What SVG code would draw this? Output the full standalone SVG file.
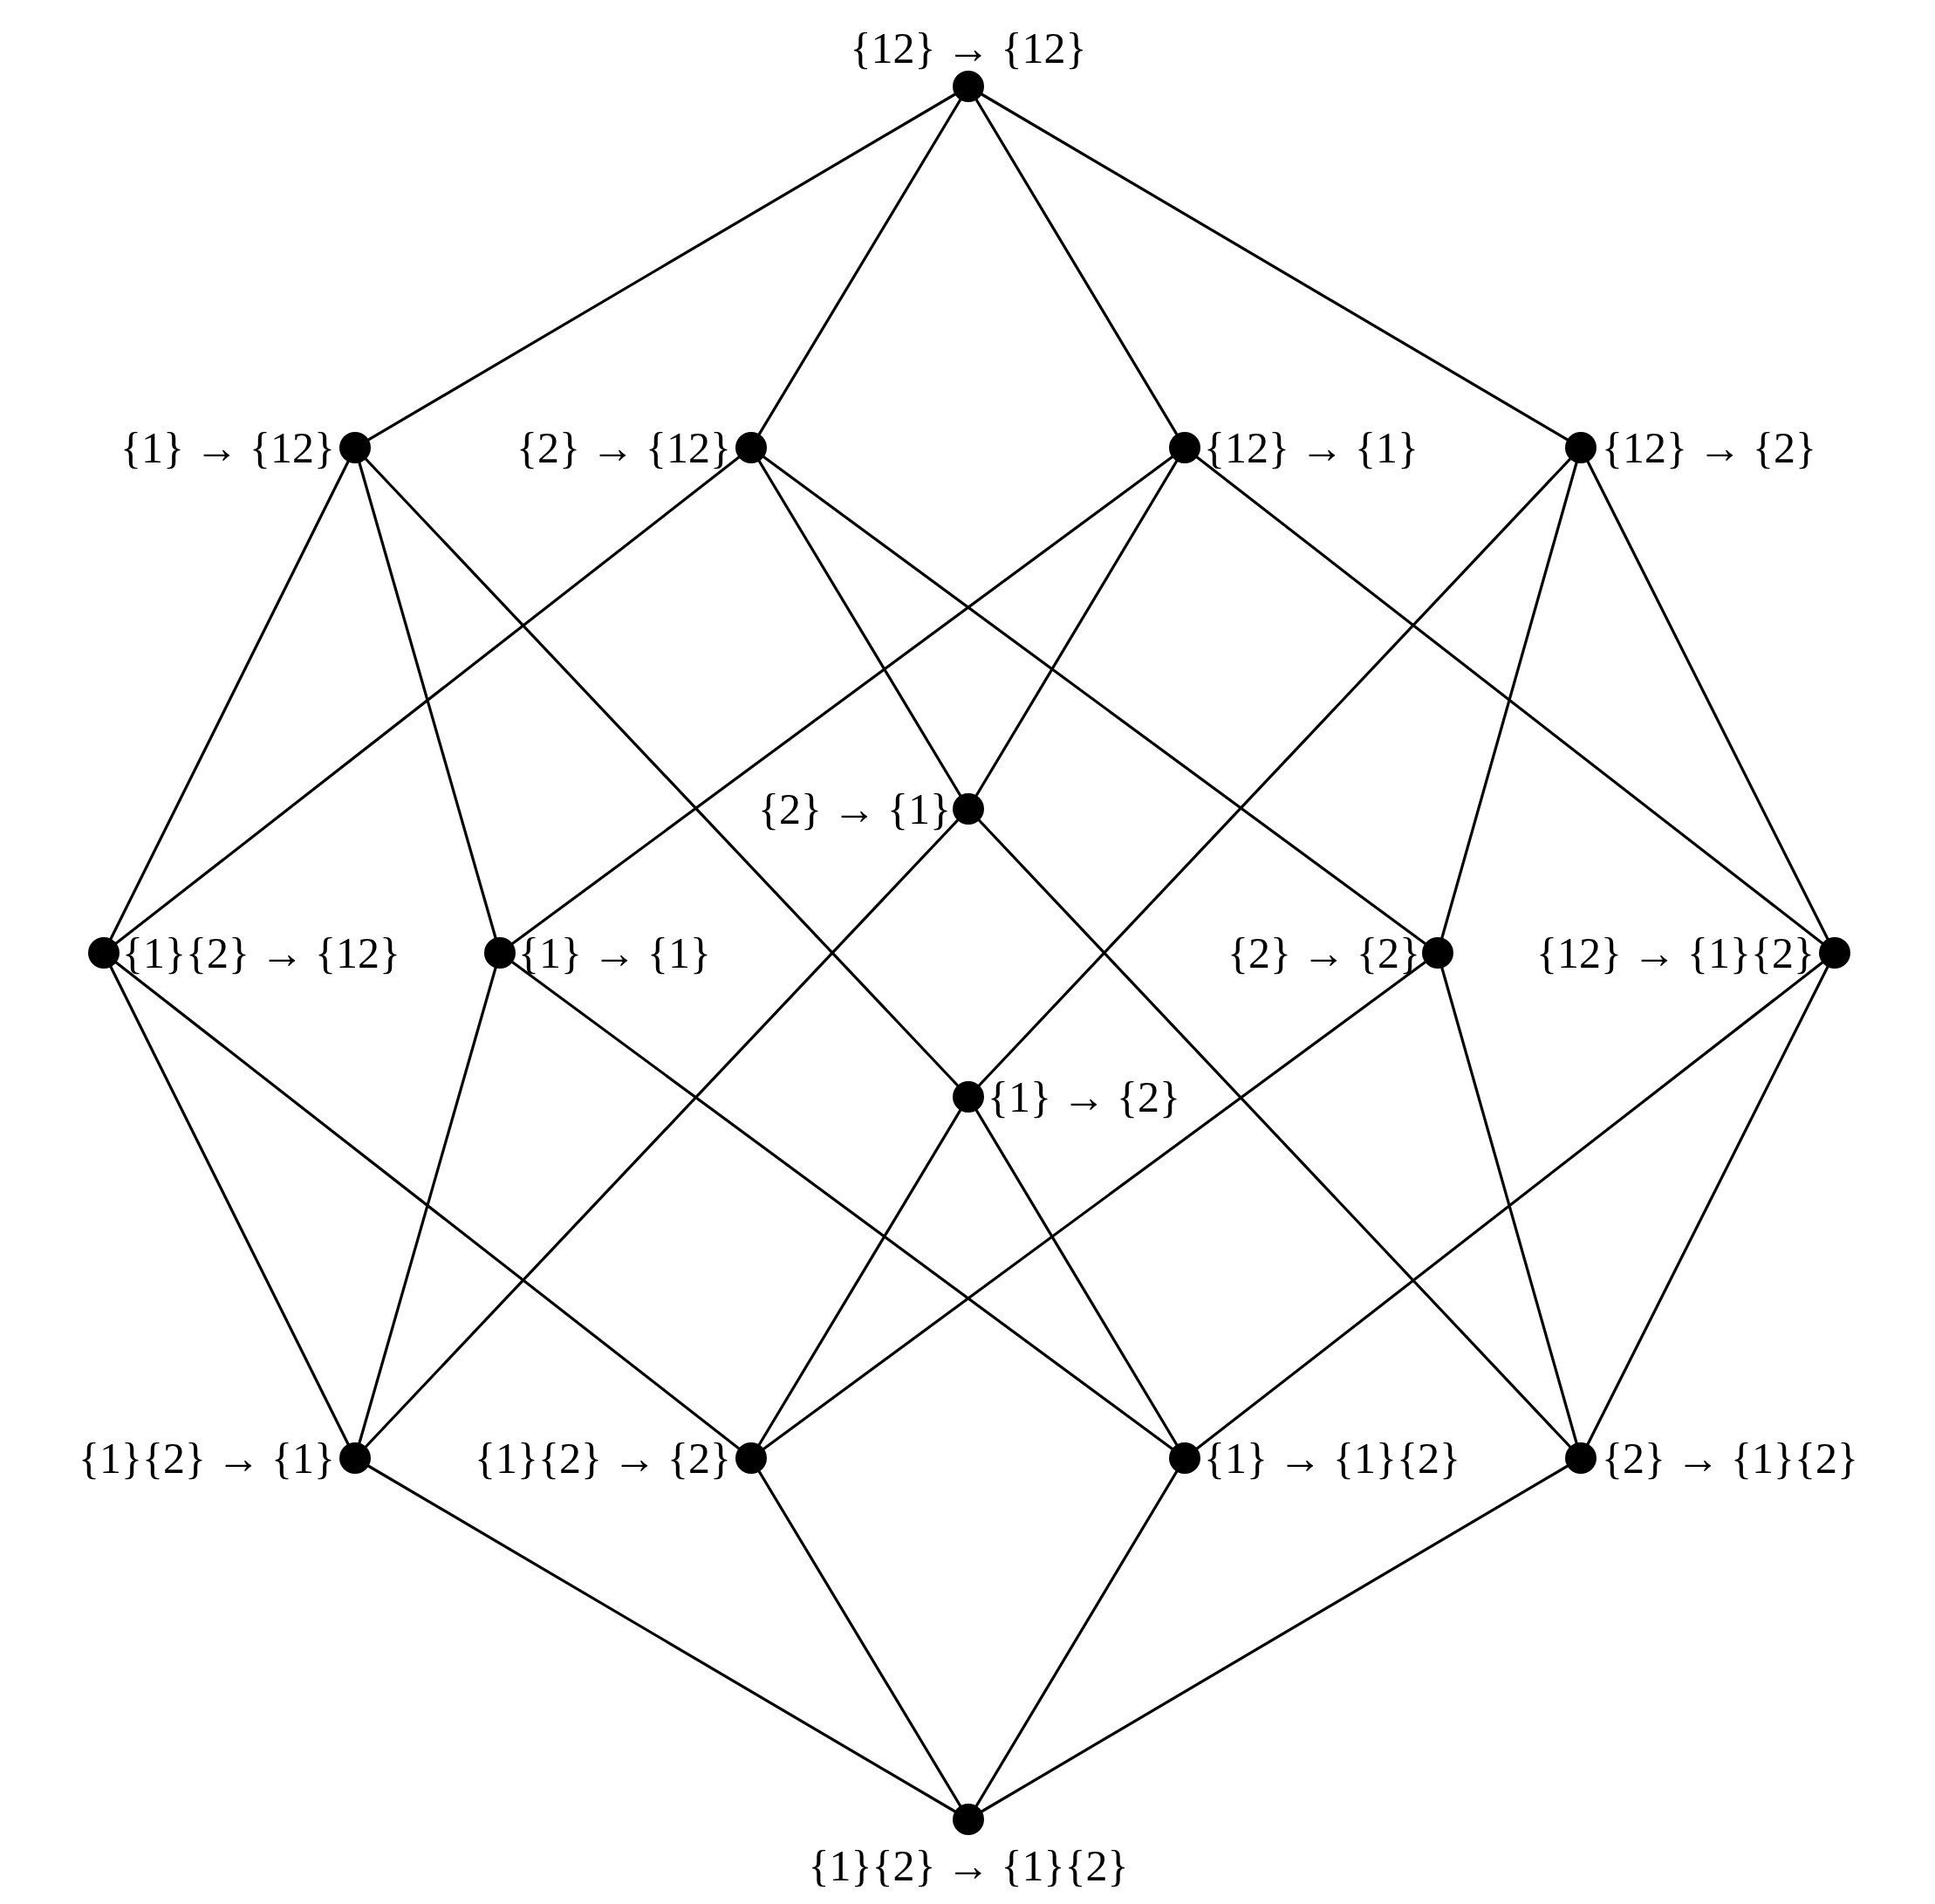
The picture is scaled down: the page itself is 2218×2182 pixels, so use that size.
<svg xmlns="http://www.w3.org/2000/svg" width="2218" height="2182" viewBox="0 0 2218 2182">
<style>
.e{stroke:#000;stroke-width:3.2;fill:none}
.n{fill:#000}
text{font-family:"Liberation Serif","DejaVu Serif",serif;font-size:50px;fill:#000}
.m{text-anchor:middle}.r{text-anchor:end}
</style>
<rect width="2218" height="2182" fill="#fff"/>
<g id="edges" class="e">
<path d="M1110 99L407 513M1110 99L861 513M1110 99L1358 513M1110 99L1812 513"/>
<path d="M407 513L119 1092M407 513L573 1092M407 513L1110 1257"/>
<path d="M861 513L119 1092M861 513L1110 927M861 513L1648 1092"/>
<path d="M1358 513L573 1092M1358 513L1110 927M1358 513L2103 1092"/>
<path d="M1812 513L1110 1257M1812 513L1648 1092M1812 513L2103 1092"/>
<path d="M119 1092L407 1671M119 1092L861 1671M573 1092L407 1671M573 1092L1358 1671"/>
<path d="M1110 927L407 1671M1110 927L1812 1671M1648 1092L861 1671M1648 1092L1812 1671"/>
<path d="M2103 1092L1358 1671M2103 1092L1812 1671M1110 1257L861 1671M1110 1257L1358 1671"/>
<path d="M407 1671L1110 2085M861 1671L1110 2085M1358 1671L1110 2085M1812 1671L1110 2085"/>
</g>
<g id="nA"><circle class="n" cx="1110" cy="99" r="18"/><text class="m" x="1110" y="72">{12} → {12}</text></g>
<g id="nB"><circle class="n" cx="407" cy="513" r="18"/><text class="r" x="384" y="530">{1} → {12}</text></g>
<g id="nC"><circle class="n" cx="861" cy="513" r="18"/><text class="r" x="838" y="530">{2} → {12}</text></g>
<g id="nD"><circle class="n" cx="1358" cy="513" r="18"/><text x="1380" y="530">{12} → {1}</text></g>
<g id="nE"><circle class="n" cx="1812" cy="513" r="18"/><text x="1836" y="530">{12} → {2}</text></g>
<g id="nF"><circle class="n" cx="1110" cy="927" r="18"/><text class="r" x="1090" y="944">{2} → {1}</text></g>
<g id="nG"><circle class="n" cx="119" cy="1092" r="18"/><text x="140" y="1109">{1}{2} → {12}</text></g>
<g id="nH"><circle class="n" cx="573" cy="1092" r="18"/><text x="594" y="1109">{1} → {1}</text></g>
<g id="nI"><circle class="n" cx="1648" cy="1092" r="18"/><text class="r" x="1628" y="1109">{2} → {2}</text></g>
<g id="nJ"><circle class="n" cx="2103" cy="1092" r="18"/><text class="r" x="2080" y="1109">{12} → {1}{2}</text></g>
<g id="nK"><circle class="n" cx="1110" cy="1257" r="18"/><text x="1132" y="1274">{1} → {2}</text></g>
<g id="nL"><circle class="n" cx="407" cy="1671" r="18"/><text class="r" x="384" y="1688">{1}{2} → {1}</text></g>
<g id="nM"><circle class="n" cx="861" cy="1671" r="18"/><text class="r" x="838" y="1688">{1}{2} → {2}</text></g>
<g id="nN"><circle class="n" cx="1358" cy="1671" r="18"/><text x="1380" y="1688">{1} → {1}{2}</text></g>
<g id="nO"><circle class="n" cx="1812" cy="1671" r="18"/><text x="1836" y="1688">{2} → {1}{2}</text></g>
<g id="nP"><circle class="n" cx="1110" cy="2085" r="18"/><text class="m" x="1110" y="2155">{1}{2} → {1}{2}</text></g>
</svg>
